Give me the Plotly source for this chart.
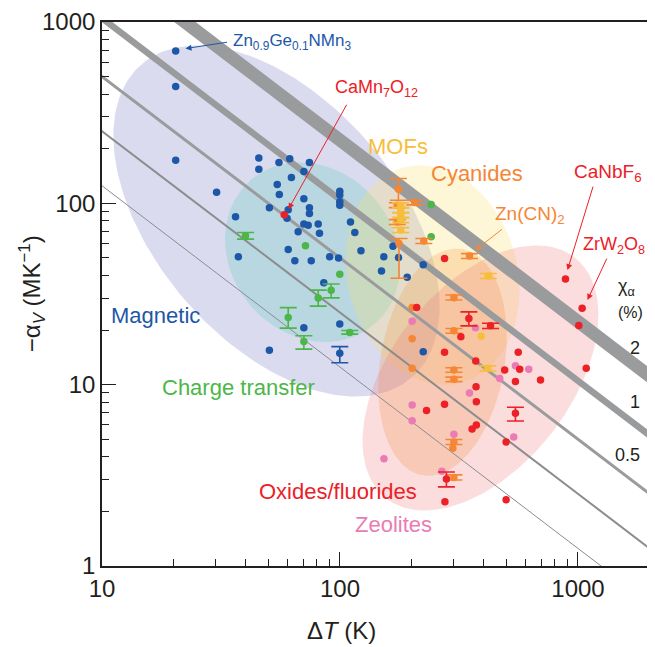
import numpy as np
import plotly.graph_objects as go

# ---------------- data ----------------
# Magnetic
mag_dT = [20.4, 20.4, 20.4, 30.3, 36.4, 37.4, 45.6, 45.6, 50.5, 55.4, 61.5, 74.4, 70.5, 62.5, 54.5,
          55.6, 70.5, 74.4, 74.4, 60.6, 59.9, 70.5, 73.5, 81, 82, 66.7, 60.6, 64.6, 75.7, 90.5,
          98.6, 99.8, 99.8, 99.8, 99.8, 110.7, 115.4, 122.5, 85.5, 70.5, 99.8, 50.5, 99.8, 152.8,
          176.2, 167, 149.4, 191.6, 223.7, 223.7]
mag_alpha = [692, 441, 173, 115, 84.3, 50.7, 178, 154, 94.4, 168, 176, 168, 150, 139, 127,
             112, 106, 94.4, 88, 92.3, 82.7, 76.8, 75.6, 76.8, 68.3, 69.6, 55.7, 48.2, 48.3, 50.7,
             49.9, 116.7, 111, 102, 97.7, 78.8, 69.1, 54.7, 36.5, 20.6, 21.6, 15.5, 14.9, 50.7,
             50.2, 57.9, 42.3, 39.1, 45.8, 15.2]
mag_lo = [None] * 42 + [13.2] + [None] * 7
mag_hi = [None] * 42 + [16.2] + [None] * 7

# Charge transfer
ct_dT = [40.1, 71.6, 99.8, 91.8, 81, 60.6, 70.5, 109.9, 241.6, 241.6]
ct_alpha = [66.2, 58.3, 40.6, 33.2, 30.1, 23.5, 17.3, 19.4, 98.6, 65.4]
ct_lo = [63.5, None, None, 30.1, 27.1, 20.5, 15.7, 19.0, None, None]
ct_hi = [69.0, None, None, 35.9, 33.2, 26.6, 18.6, 19.9, None, None]

# MOFs
mof_dT = [180, 180, 180, 180, 180, 420, 392, 418]
mof_alpha = [97.7, 91.7, 86.1, 80.8, 71.2, 39.7, 18.5, 12.3]
mof_lo = [94.7, 88.9, 83.4, 78.3, 69.0, 38.5, None, 11.9]
mof_hi = [100.8, 94.6, 88.8, 83.4, 73.5, 41.0, None, 12.7]

# Cyanides
cy_dT = [350, 301, 201, 301, 201, 201, 301, 301, 301, 298, 301, 206, 225, 176, 177, 174, 174]
cy_alpha = [51.2, 30.2, 26.6, 19.8, 17.9, 12.3, 12.05, 10.7, 4.83, 4.46, 3.08, 101, 62, 119.6, 60,
            97.7, 78.8]
cy_lo = [49.6, 29.3, None, 19.2, None, None, 11.7, 10.4, 4.68, None, 2.98, 98, 60, 104, 38.6,
         94.7, 76.4]
cy_hi = [52.8, 31.2, None, 20.4, None, None, 12.4, 11.0, 4.98, None, 3.18, 104, 64, 137, 64,
         100.8, 81.3]

# Oxides / fluorides
ox_dT = [58.3, 275, 886, 1041, 1008, 1083, 210, 348, 429, 322, 275, 372, 561, 492, 569, 546, 696,
         373, 374, 275, 231, 546, 374, 359, 499, 280, 276, 499]
ox_alpha = [86.6, 49.7, 38.2, 26.4, 21.2, 12.3, 26.6, 23.2, 21.1, 18.4, 15.1, 13.5, 15.1, 12.05,
            12.16, 10.4, 10.6, 9.75, 8.06, 7.8, 7.21, 6.96, 6.0, 5.7, 4.83, 3.02, 2.26, 2.32]
ox_lo = [None] * 7 + [21.1, 20.4] + [None] * 12 + [6.31] + [None] * 3 + [2.73, None, None]
ox_hi = [None] * 7 + [25.2, 21.8] + [None] * 12 + [7.51] + [None] * 3 + [3.30, None, None]

# Zeolites
ze_dT = [201, 371, 546, 621, 469, 350, 201, 201, 301, 537, 153, 268]
ze_alpha = [22.4, 20.6, 12.7, 12.16, 10.8, 9.0, 7.73, 6.33, 5.33, 5.15, 3.9, 3.33]

# constant -alpha_V * dT guide lines (MK^-1 * K) and their widths
guide_products = [22300, 10500, 5000, 2500, 1250]
guide_widths = [13, 6.5, 3, 2, 1]

# family regions: centre (dT, alpha) and semi-axis vectors in decades (log dT, log alpha)
regions = [
    dict(name="Magnetic", c=(54.1, 79.8), v1=(0.567, -0.8645), v2=(-0.385, -0.435),
         fill="rgba(110,110,190,0.25)"),
    dict(name="Charge transfer", c=(76.7, 53.8), v1=(0.2567, -0.401), v2=(-0.2639, -0.2904),
         fill="rgba(120,210,200,0.35)"),
    dict(name="MOFs", c=(244.8, 40.2), v1=(0.1222, -0.5934), v2=(-0.3445, -0.1218),
         fill="rgba(250,225,110,0.28)"),
    dict(name="Cyanides", c=(269.6, 13.3), v1=(0.084, 0.624), v2=(0.2566, -0.0594),
         fill="rgba(245,150,60,0.25)"),
    dict(name="Oxides", c=(389.3, 10.89), v1=(0.3958, 0.6644), v2=(0.298, -0.305),
         fill="rgba(240,120,120,0.25)"),
]

BLUE = "#1d57a7"
GREEN = "#4cb748"
RED = "#ec2027"
ORANGE = "#f58634"
YELLOW = "#f8bd3b"
PINK = "#ea7bb5"
INK = "#231f20"
FONT = "Liberation Sans"

fig = go.Figure()

# regions
t = np.linspace(0, 2 * np.pi, 200)
for r in regions:
    lx = np.log10(r["c"][0]) + r["v1"][0] * np.cos(t) + r["v2"][0] * np.sin(t)
    ly = np.log10(r["c"][1]) + r["v1"][1] * np.cos(t) + r["v2"][1] * np.sin(t)
    fig.add_trace(go.Scatter(x=10 ** lx, y=10 ** ly, mode="lines", fill="toself",
                             fillcolor=r["fill"], line=dict(width=0), hoverinfo="skip",
                             showlegend=False))

# guide lines
xs = np.array([5, 5000])
for p, w in zip(guide_products, guide_widths):
    col = "#9a9b9d" if w > 2.5 else "#8c8c8e"
    fig.add_trace(go.Scatter(x=xs, y=p / xs, mode="lines", line=dict(color=col, width=w),
                             hoverinfo="skip", showlegend=False))


def add_series(dT, alpha, color, lo=None, hi=None):
    n = len(dT)
    lo = lo or [None] * n
    hi = hi or [None] * n
    plain = [i for i in range(n) if lo[i] is None]
    err = [i for i in range(n) if lo[i] is not None]
    if err:
        fig.add_trace(go.Scatter(
            x=[dT[i] for i in err], y=[alpha[i] for i in err], mode="markers",
            marker=dict(color=color, size=7.5),
            error_y=dict(type="data", symmetric=False,
                         array=[hi[i] - alpha[i] for i in err],
                         arrayminus=[alpha[i] - lo[i] for i in err],
                         color=color, thickness=1.6, width=8.5),
            showlegend=False))
    if plain:
        fig.add_trace(go.Scatter(
            x=[dT[i] for i in plain], y=[alpha[i] for i in plain], mode="markers",
            marker=dict(color=color, size=7.5), showlegend=False))


add_series(mag_dT, mag_alpha, BLUE, mag_lo, mag_hi)
add_series(ct_dT, ct_alpha, GREEN, ct_lo, ct_hi)
add_series(cy_dT, cy_alpha, ORANGE, cy_lo, cy_hi)
add_series(mof_dT, mof_alpha, YELLOW, mof_lo, mof_hi)
add_series(ze_dT, ze_alpha, PINK)
add_series(ox_dT, ox_alpha, RED, ox_lo, ox_hi)

ann = []


def label(text, lx, ly, color, size=20, xanchor="center"):
    ann.append(dict(x=lx, y=ly, xref="x", yref="y", text=text, showarrow=False,
                    font=dict(family=FONT, size=size, color=color), xanchor=xanchor,
                    yanchor="middle"))


def arrow(hx, hy, tx, ty, color):
    ann.append(dict(x=hx, y=hy, ax=tx, ay=ty, xref="x", yref="y", axref="x", ayref="y",
                    text="", showarrow=True, arrowhead=2, arrowsize=1.2, arrowwidth=1,
                    arrowcolor=color, standoff=0, startstandoff=0))


label("Zn<sub>0.9</sub>Ge<sub>0.1</sub>NMn<sub>3</sub>", 1.540, 2.888, BLUE, 17, "left")
arrow(1.3508, 2.8534, 1.5315, 2.8898, BLUE)
label("CaMn<sub>7</sub>O<sub>12</sub>", 2.1513, 2.6347, RED, 18)
arrow(1.7836, 1.968, 2.0315, 2.552, RED)
label("MOFs", 2.2437, 2.3113, YELLOW, 22)
label("Cyanides", 2.5777, 2.1664, ORANGE, 22)
label("Zn(CN)<sub>2</sub>", 2.8004, 1.935, ORANGE, 19)
arrow(2.5693, 1.7421, 2.687, 1.8634, ORANGE)
label("CaNbF<sub>6</sub>", 3.1261, 2.1664, RED, 19)
arrow(2.9559, 1.632, 3.0651, 2.1003, RED)
label("ZrW<sub>2</sub>O<sub>8</sub>", 3.152, 1.7697, RED, 18)
arrow(3.0399, 1.4667, 3.124, 1.7036, RED)
label("χ<sub>α</sub>", 3.2038, 1.5383, INK, 18)
label("(%)", 3.2206, 1.4006, INK, 16)
label("2", 3.2416, 1.2022, INK, 18)
label("1", 3.2416, 0.9047, INK, 18)
label("0.5", 3.208, 0.6127, INK, 18)
label("Magnetic", 1.2248, 1.3840, BLUE, 22)
label("Charge transfer", 1.5756, 0.982, GREEN, 22)
label("Oxides/fluorides", 1.9916, 0.4105, RED, 22)
label("Zeolites", 2.2269, 0.2270, PINK, 22)

# axis titles
ann.append(dict(x=0.44, y=-0.118, xref="paper", yref="paper", text="Δ<i>T</i> (K)",
                showarrow=False, font=dict(family=FONT, size=24, color=INK),
                xanchor="center", yanchor="middle"))
ann.append(dict(x=-0.128, y=0.5, xref="paper", yref="paper",
                text="−α<sub><i>V</i></sub> (MK<sup>−1</sup>)", textangle=-90,
                showarrow=False, font=dict(family=FONT, size=24, color=INK),
                xanchor="center", yanchor="middle"))

axis_common = dict(type="log", showgrid=False, zeroline=False, showline=True, linewidth=1.6,
                   linecolor=INK, mirror=True, ticks="inside", ticklen=14,
                   tickwidth=1.3, tickcolor=INK, automargin=False,
                   tickfont=dict(family=FONT, size=24, color=INK))

# the page adds an 8 px body margin, so the figure is offset by (8, 8)
fig.update_layout(
    width=655, height=647,
    margin=dict(l=94, r=16, t=14, b=89, autoexpand=False),
    paper_bgcolor="white", plot_bgcolor="white",
    xaxis=dict(range=[1, 3.29], tickvals=[10, 100, 1000], ticktext=["10", "100", "1000"],
               minor=dict(ticks="inside", ticklen=7, tickwidth=1.2, tickcolor=INK,
                          tickvals=[20, 30, 40, 50, 60, 70, 80, 90, 200, 300, 400, 500, 600,
                                    700, 800, 900]),
               **axis_common),
    yaxis=dict(range=[0, 3], tickvals=[1, 10, 100, 1000], ticktext=["1", "10", "100", "1000"],
               minor=dict(ticks="inside", ticklen=7, tickwidth=1.2, tickcolor=INK,
                          tickvals=[2, 3, 4, 5, 6, 7, 8, 9, 20, 30, 40, 50, 60, 70, 80, 90,
                                    200, 300, 400, 500, 600, 700, 800, 900]),
               **axis_common),
    annotations=ann,
    showlegend=False,
)

fig.write_html("out.html")
